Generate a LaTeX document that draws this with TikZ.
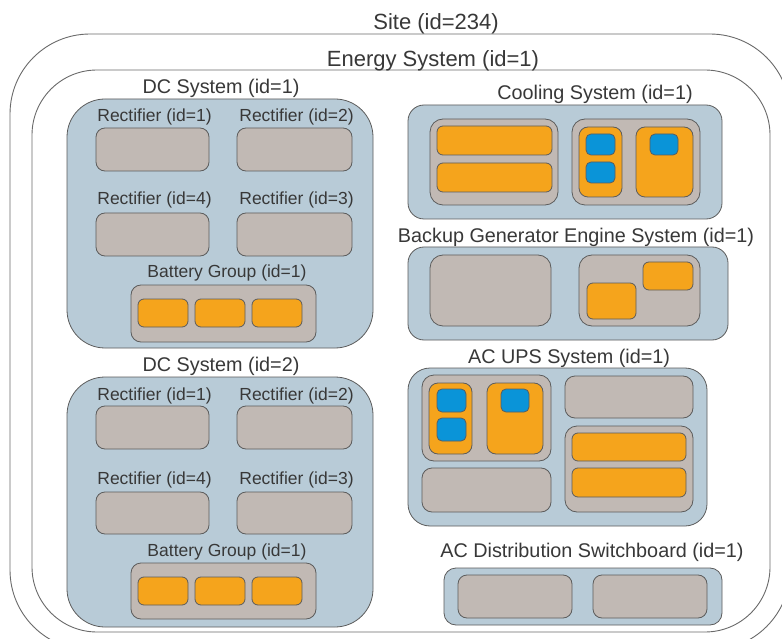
\documentclass[tikz,border=0pt]{standalone}
\usepackage{fontspec}
\setmainfont{Liberation Sans}
\usetikzlibrary{fit}
\definecolor{sysblue}{HTML}{B8CBD7}
\definecolor{devgray}{HTML}{C1B9B4}
\definecolor{partorange}{HTML}{F5A41C}
\definecolor{partblue}{HTML}{0A94D8}
\definecolor{edgegray}{HTML}{5C5C5C}
\definecolor{outergray}{HTML}{6A6A6A}
\definecolor{txt}{HTML}{383838}
\tikzset{
  box/.style={draw=edgegray, line width=0.8pt, inner sep=0pt},
  outerbox/.style={draw=outergray, line width=0.9pt, inner sep=0pt},
  sysbox/.style={box, fill=sysblue},
  devbox/.style={box, fill=devgray},
  orbox/.style={box, fill=partorange, rounded corners=6pt},
  blbox/.style={box, fill=partblue, rounded corners=5pt},
  biglbl/.style={anchor=base, text=txt, inner sep=0pt, font=\fontsize{22}{26}\selectfont},
  midlbl/.style={anchor=base, text=txt, inner sep=0pt, font=\fontsize{19.8}{24}\selectfont},
  smalllbl/.style={anchor=base, text=txt, inner sep=0pt, font=\fontsize{17.5}{21}\selectfont},
}
\begin{document}
\begin{tikzpicture}[x=1pt, y=-1pt]
\useasboundingbox (0,0) rectangle (782,639);
\clip (0,0) rectangle (782,639);
\fill[white] (0,0) rectangle (782,639);
% Site
\node[outerbox, rounded corners=80pt, fit={(10,34) (790,650)}] (site) {};
\node[biglbl] (sitelbl) at (436,29.5) {Site (id=234)};
% Energy system
\node[outerbox, rounded corners=65pt, fit={(32,70) (770,632)}] (energy) {};
\node[biglbl] (energylbl) at (433,66.5) {Energy System (id=1)};

% DC System 1
\node[midlbl] (dc1lbl) at (221,93.5) {DC System (id=1)};
\node[sysbox, rounded corners=38pt, fit={(67,99) (373,348)}] (dc1) {};
\node[smalllbl] (dc1r1l) at (154.5,122) {Rectifier (id=1)};
\node[smalllbl] (dc1r2l) at (296.5,122) {Rectifier (id=2)};
\node[devbox, rounded corners=9pt, fit={(96,128) (209,171)}] (dc1r1) {};
\node[devbox, rounded corners=9pt, fit={(237,128) (352,171)}] (dc1r2) {};
\node[smalllbl] (dc1r4l) at (154.5,205) {Rectifier (id=4)};
\node[smalllbl] (dc1r3l) at (296.5,205) {Rectifier (id=3)};
\node[devbox, rounded corners=9pt, fit={(96,213) (209,256)}] (dc1r4) {};
\node[devbox, rounded corners=9pt, fit={(237,213) (352,256)}] (dc1r3) {};
\node[smalllbl] (dc1bl) at (227,277) {Battery Group (id=1)};
\node[devbox, rounded corners=10pt, fit={(131,285) (316,342)}] (dc1b) {};
\node[orbox, fit={(138,299) (188,327)}] (dc1b1) {};
\node[orbox, fit={(195,299) (245,327)}] (dc1b2) {};
\node[orbox, fit={(252,299) (302,327)}] (dc1b3) {};

% DC System 2
\node[midlbl] (dc2lbl) at (221,371.5) {DC System (id=2)};
\node[sysbox, rounded corners=38pt, fit={(67,377) (373,627)}] (dc2) {};
\node[smalllbl] (dc2r1l) at (154.5,400) {Rectifier (id=1)};
\node[smalllbl] (dc2r2l) at (296.5,400) {Rectifier (id=2)};
\node[devbox, rounded corners=9pt, fit={(96,406) (209,449)}] (dc2r1) {};
\node[devbox, rounded corners=9pt, fit={(237,406) (352,449)}] (dc2r2) {};
\node[smalllbl] (dc2r4l) at (154.5,484) {Rectifier (id=4)};
\node[smalllbl] (dc2r3l) at (296.5,484) {Rectifier (id=3)};
\node[devbox, rounded corners=9pt, fit={(96,492) (209,534)}] (dc2r4) {};
\node[devbox, rounded corners=9pt, fit={(237,492) (352,534)}] (dc2r3) {};
\node[smalllbl] (dc2bl) at (227,556) {Battery Group (id=1)};
\node[devbox, rounded corners=10pt, fit={(131,563) (316,619)}] (dc2b) {};
\node[orbox, fit={(138,577) (188,605)}] (dc2b1) {};
\node[orbox, fit={(195,577) (245,605)}] (dc2b2) {};
\node[orbox, fit={(252,577) (302,605)}] (dc2b3) {};

% Cooling System
\node[midlbl] (coollbl) at (595,100) {Cooling System (id=1)};
\node[sysbox, rounded corners=16pt, fit={(408,105) (722,219)}] (cool) {};
\node[devbox, rounded corners=13pt, fit={(430,119) (558,205)}] (coolg1) {};
\node[orbox, fit={(437,126) (552,155)}] (coolo1) {};
\node[orbox, fit={(437,163) (552,192)}] (coolo2) {};
\node[devbox, rounded corners=13pt, fit={(572,119) (700,205)}] (coolg2) {};
\node[orbox, rounded corners=9pt, fit={(579,127) (622,197)}] (coolo3) {};
\node[blbox, fit={(586,134) (615,155)}] (coolb1) {};
\node[blbox, fit={(586,162) (615,183)}] (coolb2) {};
\node[orbox, rounded corners=9pt, fit={(636,127) (693,197)}] (coolo4) {};
\node[blbox, fit={(650,134) (678,155)}] (coolb3) {};

% Backup Generator
\node[midlbl] (genlbl) at (576,243) {Backup Generator Engine System (id=1)};
\node[sysbox, rounded corners=16pt, fit={(408,247) (728,340)}] (gen) {};
\node[devbox, rounded corners=13pt, fit={(430,255) (551,326)}] (geng1) {};
\node[devbox, rounded corners=13pt, fit={(579,255) (700,326)}] (geng2) {};
\node[orbox, fit={(587,283) (636,319)}] (geno1) {};
\node[orbox, fit={(643,262) (693,290)}] (geno2) {};

% AC UPS System
\node[midlbl] (upslbl) at (569,363) {AC UPS System (id=1)};
\node[sysbox, rounded corners=22pt, fit={(408,368) (707,526)}] (ups) {};
\node[devbox, rounded corners=12pt, fit={(422,375) (551,461)}] (upsg1) {};
\node[orbox, rounded corners=9pt, fit={(429,383) (472,454)}] (upso1) {};
\node[blbox, fit={(437,389) (466,412)}] (upsb1) {};
\node[blbox, fit={(437,418) (466,441)}] (upsb2) {};
\node[orbox, rounded corners=9pt, fit={(487,383) (543,454)}] (upso2) {};
\node[blbox, fit={(501,389) (529,412)}] (upsb3) {};
\node[devbox, rounded corners=10pt, fit={(422,468) (551,512)}] (upsg2) {};
\node[devbox, rounded corners=10pt, fit={(565,376) (693,418)}] (upsg3) {};
\node[devbox, rounded corners=12pt, fit={(565,426) (693,512)}] (upsg4) {};
\node[orbox, fit={(572,433) (686,461)}] (upso3) {};
\node[orbox, fit={(572,468) (686,497)}] (upso4) {};

% AC Distribution Switchboard
\node[midlbl] (acdlbl) at (592,557) {AC Distribution Switchboard (id=1)};
\node[sysbox, rounded corners=12pt, fit={(444,568) (722,625)}] (acd) {};
\node[devbox, rounded corners=9pt, fit={(458,575) (572,618)}] (acdg1) {};
\node[devbox, rounded corners=9pt, fit={(593,575) (707,618)}] (acdg2) {};
\end{tikzpicture}
\end{document}
